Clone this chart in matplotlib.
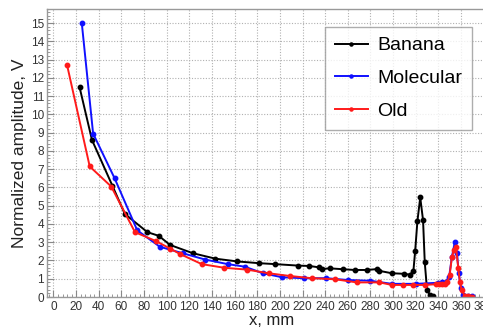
import numpy as np
import matplotlib.pyplot as plt
from matplotlib.ticker import MultipleLocator

plt.rcParams['font.family'] = ['Liberation Sans', 'DejaVu Sans']

# Banana (black)
banana_x = [23, 34, 52, 63, 83, 93, 103, 123, 143, 162, 182, 196, 216, 226, 235, 237,
            244, 256, 266, 277, 286, 288, 299, 310, 315, 318, 319.5, 321.5, 324, 326.5,
            328, 330, 332.5, 335]
banana_y = [11.5, 8.6, 6.1, 4.55, 3.55, 3.35, 2.85, 2.4, 2.1, 1.95, 1.85, 1.8, 1.72, 1.7,
            1.62, 1.53, 1.57, 1.52, 1.48, 1.48, 1.53, 1.43, 1.3, 1.27, 1.22, 1.45, 2.5,
            4.15, 5.45, 4.2, 1.9, 0.4, 0.12, 0.05]

# Molecular (blue)
molecular_x = [25, 35, 54, 74, 94, 114, 134, 154, 169, 185, 202, 221, 241, 260, 280, 299,
               320, 340, 343, 346.5, 349.5, 352, 354.5, 356.5, 358, 360, 362, 366, 370]
molecular_y = [15.0, 8.95, 6.5, 3.65, 2.75, 2.4, 2.05, 1.8, 1.66, 1.3, 1.08, 1.03, 1.03,
               0.93, 0.89, 0.72, 0.72, 0.78, 0.8, 0.84, 1.1, 2.2, 3.0, 2.4, 1.3, 0.48,
               0.1, 0.05, 0.05]

# Old (red)
old_x = [12, 32, 51, 72, 91, 103, 112, 131, 151, 171, 190, 209, 228, 249, 268, 288, 299,
         309, 318, 328, 338, 341, 343, 346, 348, 350, 352, 354, 355.6, 357.6, 359, 360.6,
         363.5, 366, 368, 370]
old_y = [12.7, 7.15, 6.05, 3.55, 3.05, 2.65, 2.35, 1.8, 1.6, 1.5, 1.3, 1.15, 1.03, 0.97,
         0.8, 0.8, 0.66, 0.66, 0.66, 0.66, 0.7, 0.7, 0.72, 0.7, 0.8, 1.2, 2.2, 2.6,
         2.75, 1.57, 0.84, 0.38, 0.05, 0.05, 0.02, 0.02]

fig = plt.figure(figsize=(4.83, 3.27), dpi=100)
ax = fig.add_axes([46.7 / 483, 30 / 327, 450.5 / 483, 288.5 / 327])

ax.plot(banana_x, banana_y, color='black', lw=1.4, marker='o', ms=3.2, label='Banana')
ax.plot(molecular_x, molecular_y, color='#1010ff', lw=1.4, marker='o', ms=3.2, label='Molecular')
ax.plot(old_x, old_y, color='#ff1a1a', lw=1.4, marker='o', ms=3.2, label='Old')

ax.set_xlim(-6, 392)
ax.set_ylim(0, 15.8)
ax.xaxis.set_major_locator(MultipleLocator(20))
ax.xaxis.set_minor_locator(MultipleLocator(4))
ax.yaxis.set_major_locator(MultipleLocator(1))
ax.yaxis.set_minor_locator(MultipleLocator(0.2))

ax.grid(True, which='major', color='#b0b0b0', ls=(0, (1, 1.5)), lw=0.8)
ax.set_axisbelow(True)
ax.tick_params(which='both', direction='in', color='#888888', labelsize=8.5,
               labelcolor='#333333', top=False, right=False)
ax.tick_params(which='major', length=5)
ax.tick_params(which='minor', length=2.5)
ax.tick_params(axis='y', pad=2)
ax.tick_params(axis='x', pad=3)
for s in ax.spines.values():
    s.set_color('#999999')
    s.set_linewidth(1.0)

ax.set_xlabel('x, mm', fontsize=12, color='#222222', labelpad=0)
ax.set_ylabel('Normalized amplitude, V', fontsize=12.5, color='#222222', labelpad=3)

leg = ax.legend(loc='upper left', bbox_to_anchor=(325 / 483, 1 - 27 / 327),
                bbox_transform=fig.transFigure, fontsize=14, frameon=True,
                fancybox=False, edgecolor='#999999', handlelength=1.7,
                handletextpad=0.5, labelspacing=0.78, borderpad=0.5,
                borderaxespad=0, markerscale=0.7)
leg.get_frame().set_linewidth(1.0)

fig.savefig('out.png', dpi=100)
